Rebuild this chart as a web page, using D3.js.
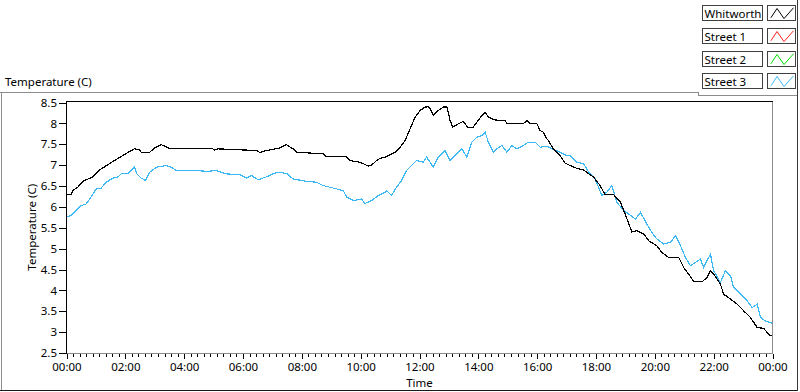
<!DOCTYPE html>
<html>
<head>
<meta charset="utf-8">
<script src="https://cdn.jsdelivr.net/npm/d3@7"></script>
<style>
  html, body { margin: 0; padding: 0; background: #fff; }
  svg { display: block; }
  text { font-family: "Noto Sans", "Open Sans", sans-serif; fill: #000; }
</style>
</head>
<body>
<svg id="chart" width="800" height="392"></svg>
<script>
// ---------------- data ----------------
const seriesNames = ["Whitworth", "Street 1", "Street 2", "Street 3"];
const seriesColors = ["#000000", "#ff2020", "#00dd00", "#3cb9f5"];

// time in hours since 00:00
const whitworthTime = [0.00,0.16,0.21,0.38,0.55,0.90,1.12,1.58,2.03,2.31,2.49,2.54,2.83,3.00,3.22,3.39,3.51,4.97,5.04,5.14,6.46,6.57,6.80,7.25,7.48,7.70,7.82,8.73,8.84,9.52,9.63,9.97,10.26,10.37,10.54,10.66,10.83,11.00,11.17,11.34,11.51,11.68,11.85,12.02,12.19,12.30,12.36,12.47,12.64,12.81,12.93,13.04,13.13,13.32,13.49,13.63,13.83,13.95,14.12,14.23,14.34,14.57,14.91,14.97,15.53,15.65,15.76,15.99,16.10,16.21,16.33,16.38,16.55,16.78,16.95,17.24,17.46,17.58,17.92,18.14,18.31,18.60,18.83,18.99,19.22,19.39,19.62,19.79,20.07,20.24,20.47,20.81,20.98,21.15,21.32,21.61,21.78,21.89,22.00,22.23,22.34,22.57,22.80,23.02,23.25,23.48,23.70,23.82,23.91,24.00];
const whitworthTemp = [6.29,6.29,6.39,6.47,6.61,6.72,6.88,7.09,7.28,7.39,7.36,7.31,7.31,7.41,7.49,7.44,7.39,7.39,7.36,7.39,7.35,7.30,7.35,7.41,7.49,7.39,7.31,7.27,7.20,7.20,7.11,7.07,6.98,7.00,7.11,7.16,7.19,7.25,7.31,7.43,7.59,7.87,8.15,8.31,8.39,8.40,8.35,8.19,8.31,8.39,8.39,8.07,7.91,7.99,8.05,7.91,7.91,8.03,8.19,8.27,8.15,8.08,8.07,8.00,7.99,8.07,7.99,7.99,7.83,7.79,7.63,7.59,7.39,7.23,7.05,6.95,6.90,6.88,6.71,6.51,6.29,6.29,6.11,5.83,5.40,5.43,5.35,5.19,5.07,4.91,4.79,4.79,4.55,4.39,4.21,4.21,4.31,4.47,4.39,4.15,3.91,3.79,3.67,3.51,3.35,3.11,3.09,2.99,2.91,2.91];

const street1Time = [];
const street1Temp = [];
const street2Time = [];
const street2Temp = [];

const street3Time = [0.00,0.16,0.33,0.50,0.67,0.84,1.01,1.18,1.35,1.58,1.75,1.86,2.09,2.31,2.39,2.54,2.69,2.83,3.05,3.39,3.56,3.73,4.30,4.76,5.10,5.44,5.89,6.12,6.29,6.51,6.80,7.02,7.19,7.48,7.70,8.16,8.50,8.73,9.07,9.41,9.52,9.75,10.03,10.14,10.37,10.60,10.83,10.88,11.05,11.22,11.39,11.56,11.73,11.90,12.13,12.24,12.36,12.47,12.64,12.87,13.04,13.21,13.44,13.61,13.78,13.95,14.12,14.23,14.34,14.51,14.63,14.80,14.97,15.14,15.31,15.53,15.70,15.93,16.10,16.33,16.55,16.78,17.01,17.12,17.35,17.58,17.75,17.97,18.20,18.37,18.54,18.71,18.94,19.11,19.34,19.51,19.73,19.90,20.07,20.30,20.53,20.70,20.87,21.04,21.21,21.38,21.55,21.66,21.89,22.00,22.23,22.40,22.57,22.68,22.91,23.14,23.31,23.48,23.59,23.76,24.00];
const street3Temp = [5.76,5.79,5.91,6.03,6.07,6.24,6.43,6.45,6.59,6.69,6.72,6.79,6.79,6.95,6.79,6.69,6.63,6.83,6.95,6.99,6.95,6.87,6.88,6.85,6.87,6.79,6.77,6.69,6.75,6.65,6.72,6.79,6.83,6.80,6.67,6.61,6.59,6.51,6.45,6.39,6.24,6.15,6.19,6.08,6.15,6.27,6.35,6.39,6.27,6.47,6.63,6.87,6.99,7.11,7.07,7.19,7.07,6.95,7.19,7.35,7.11,7.23,7.39,7.19,7.55,7.67,7.71,7.79,7.55,7.31,7.39,7.47,7.31,7.47,7.39,7.47,7.55,7.55,7.43,7.45,7.38,7.31,7.23,7.23,7.07,7.03,6.83,6.67,6.27,6.35,6.51,6.11,5.91,5.83,5.71,5.87,5.59,5.39,5.23,5.11,5.15,5.31,5.07,4.79,4.59,4.67,4.75,4.55,4.87,4.47,4.19,4.47,4.35,4.07,3.91,3.75,3.59,3.67,3.35,3.27,3.21];

const yTickValues = [2.5,3,3.5,4,4.5,5,5.5,6,6.5,7,7.5,8,8.5];
const xTickValues = [0,2,4,6,8,10,12,14,16,18,20,22,24];
const xTickLabels = ["00:00","02:00","04:00","06:00","08:00","10:00","12:00","14:00","16:00","18:00","20:00","22:00","00:00"];

const chartTitle = "Temperature (C)";
const yAxisTitle = "Temperature (C)";
const xAxisTitle = "Time";

// ---------------- drawing ----------------
const svg = d3.select("#chart");

const times = [whitworthTime, street1Time, street2Time, street3Time];
const temps = [whitworthTemp, street1Temp, street2Temp, street3Temp];
const series = seriesNames.map((name, i) => ({
  name, color: seriesColors[i],
  points: times[i].map((t, j) => ({ t, v: temps[i][j] }))
}));

const plot = { left: 66.5, right: 772.5, top: 101.5, bottom: 353 };
const x = d3.scaleLinear().domain([0, 24]).range([plot.left, plot.right]);
const y = d3.scaleLinear().domain([2.5, 8.5]).range([plot.bottom, 102.5]);

// outer frame
const frame = svg.append("g").attr("shape-rendering", "crispEdges").attr("fill", "none");
frame.append("path").attr("d", "M0,92.5H698.5V95.5H797").attr("stroke", "#8c8c8c");
frame.append("line").attr("x1", 1.5).attr("x2", 1.5).attr("y1", 92).attr("y2", 390).attr("stroke", "#8c8c8c");
frame.append("line").attr("x1", 0).attr("x2", 798).attr("y1", 390.5).attr("y2", 390.5).attr("stroke", "#1a1a1a");
frame.append("line").attr("x1", 797.5).attr("x2", 797.5).attr("y1", 0).attr("y2", 391).attr("stroke", "#3a3a3a");

// chart title
svg.append("text").attr("x", 5).attr("y", 86).attr("font-size", 11.5).text(chartTitle);

// plot background
svg.append("rect").attr("x", plot.left).attr("y", plot.top)
  .attr("width", plot.right - plot.left).attr("height", plot.bottom - plot.top).attr("fill", "#fff");

// clip
svg.append("clipPath").attr("id", "clip").append("rect")
  .attr("x", plot.left).attr("y", plot.top).attr("width", plot.right - plot.left).attr("height", plot.bottom - plot.top);

// lines
const line = d3.line().x(d => x(d.t)).y(d => y(d.v));
const lines = svg.append("g").attr("clip-path", "url(#clip)");
[3, 2, 1, 0].forEach(i => {
  const s = series[i];
  if (!s.points.length) return;
  lines.append("path").datum(s.points).attr("d", line)
    .attr("fill", "none").attr("stroke", s.color).attr("stroke-width", 1.2)
    .attr("shape-rendering", "crispEdges")
    .attr("stroke-linejoin", "miter");
});

// plot frame
const pf = svg.append("g").attr("shape-rendering", "crispEdges");
pf.append("line").attr("x1", plot.left - 0.5).attr("x2", plot.right + 0.5).attr("y1", plot.top).attr("y2", plot.top).attr("stroke", "#000");
pf.append("line").attr("x1", plot.right).attr("x2", plot.right).attr("y1", plot.top).attr("y2", plot.bottom + 0.5).attr("stroke", "#8c8c8c");
pf.append("line").attr("x1", plot.left).attr("x2", plot.right + 0.5).attr("y1", plot.bottom + 0.5).attr("y2", plot.bottom + 0.5).attr("stroke", "#8c8c8c");
pf.append("line").attr("x1", plot.left).attr("x2", plot.left).attr("y1", plot.top).attr("y2", plot.bottom + 0.5).attr("stroke", "#000");

// y axis
const yAxis = d3.axisLeft(y).tickValues(yTickValues).tickSize(7).tickPadding(2)
  .tickFormat(d => String(d));
const gy = svg.append("g").attr("transform", `translate(${plot.left - 0.5},0)`).call(yAxis);
gy.select(".domain").remove();
gy.selectAll(".tick line").attr("stroke", "#000").attr("shape-rendering", "crispEdges");
gy.selectAll(".tick text").attr("font-size", 11.5).attr("font-family", "Noto Sans").attr("fill", "#000");

// x axis major
const xAxis = d3.axisBottom(x).tickValues(xTickValues).tickSize(5).tickPadding(4)
  .tickFormat((d, i) => xTickLabels[i]);
const gx = svg.append("g").attr("transform", `translate(0,${plot.bottom + 0.5})`).call(xAxis);
gx.select(".domain").remove();
gx.selectAll(".tick line").attr("stroke", "#000").attr("shape-rendering", "crispEdges");
gx.selectAll(".tick text").attr("font-size", 11.5).attr("font-family", "Noto Sans").attr("fill", "#000");

// x axis minor ticks
const minorTicks = d3.range(0, 24.0001, 2 / 9).filter(v => Math.abs(v / 2 - Math.round(v / 2)) > 1e-6);
svg.append("g").attr("shape-rendering", "crispEdges").selectAll("line").data(minorTicks).join("line")
  .attr("x1", d => Math.round(x(d)) + 0.5).attr("x2", d => Math.round(x(d)) + 0.5)
  .attr("y1", plot.bottom + 1).attr("y2", plot.bottom + 4).attr("stroke", "#000");

// axis titles
svg.append("text").attr("x", x(12)).attr("y", 387).attr("text-anchor", "middle")
  .attr("font-size", 11.5).text(xAxisTitle);
svg.append("text").attr("transform", `translate(36,${(plot.top + plot.bottom) / 2}) rotate(-90)`)
  .attr("text-anchor", "middle").attr("font-size", 11.5).attr("fill", "#1a0000").text(yAxisTitle);

// legend
const rowY = [5, 28, 50.5, 73.3];
const leg = svg.append("g");
series.forEach((s, i) => {
  const g = leg.append("g").attr("transform", `translate(0,${Math.round(rowY[i])})`);
  g.append("rect").attr("x", 702.5).attr("y", 0.5).attr("width", 60).attr("height", 15)
    .attr("fill", "#fff").attr("stroke", "#404040").attr("shape-rendering", "crispEdges");
  g.append("text").attr("x", 704.5).attr("y", 12.5).attr("font-size", 11.5).text(s.name);
  g.append("rect").attr("x", 767.5).attr("y", 0.5).attr("width", 28).attr("height", 15)
    .attr("fill", "#fff").attr("stroke", "#404040").attr("shape-rendering", "crispEdges");
  const gx0 = 767.5, gw = 28, gh = 15;
  const glyph = [[0.12, 0.82], [0.34, 0.2], [0.59, 0.87], [0.93, 0.15]];
  g.append("path").attr("d", d3.line()(glyph.map(p => [gx0 + p[0] * gw, 0.5 + p[1] * gh])))
    .attr("fill", "none").attr("stroke", s.color).attr("stroke-width", 1);
});
</script>
</body>
</html>
